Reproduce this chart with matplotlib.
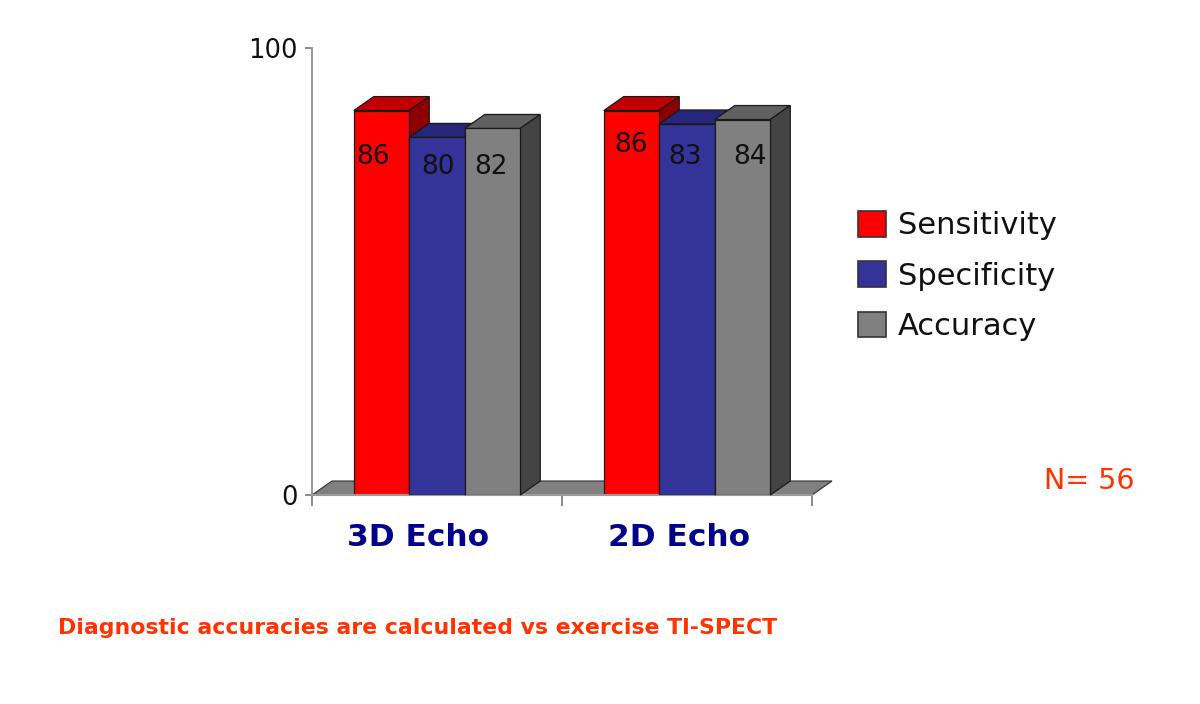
import matplotlib
matplotlib.use("Agg")
import matplotlib.pyplot as plt
from matplotlib.patches import Polygon, Patch

categories = ["3D Echo", "2D Echo"]
series_names = ["Sensitivity", "Specificity", "Accuracy"]
sensitivity = [86, 86]
specificity = [80, 83]
accuracy = [82, 84]
series_values = [sensitivity, specificity, accuracy]

W, H = 1200, 704
front = ["#FF0000", "#333399", "#808080"]
top = ["#C00000", "#26267A", "#606060"]
side = ["#8E0000", "#1C1C5C", "#444444"]

fig = plt.figure(figsize=(W / 100, H / 100), dpi=100, facecolor="white")
x0, x1, y0, y1 = 312, 812, 495, 48
ax = fig.add_axes([x0 / W, 1 - y0 / H, (x1 - x0) / W, (y0 - y1) / H])
ax.set_xlim(0, 2)
ax.set_ylim(0, 100)
ax.patch.set_visible(False)
for s in ("top", "right"):
    ax.spines[s].set_visible(False)
for s in ("left", "bottom"):
    ax.spines[s].set_color("#9A9A9A")
    ax.spines[s].set_linewidth(1.5)

# 3-D depth expressed in data units
dx = 20 / 250
dy = 14 / 4.47
bw = 55.5 / 250

# floor
floor = [(0, 0), (dx, dy), (2 + dx, dy), (2, 0)]
ax.add_patch(Polygon(floor, closed=True, fc="#808080", ec="#303030", lw=0.8, zorder=1, clip_on=False))

centers = [0.5 + i for i in range(len(categories))]
for i, c in enumerate(centers):
    for j, vals in enumerate(series_values):
        v = vals[i]
        left = c + (j - 1.5) * bw
        ax.add_patch(Polygon([(left, v), (left + dx, v + dy), (left + bw + dx, v + dy), (left + bw, v)],
                             closed=True, fc=top[j], ec="#1a1a1a", lw=0.9, zorder=2 + j, clip_on=False))
        ax.add_patch(Polygon([(left + bw, 0), (left + bw + dx, dy), (left + bw + dx, v + dy), (left + bw, v)],
                             closed=True, fc=side[j], ec="#1a1a1a", lw=0.9, zorder=2 + j, clip_on=False))
        ax.bar(left, v, width=bw, align="edge", color=front[j], edgecolor="#1a1a1a", linewidth=0.9,
               zorder=2.5 + j)

# value labels (offsets in pixels from the bar's centre / top, as placed in the original)
label_dx = [[-8, 1, -2], [0, -2, 7]]
label_dy = [[46, 30, 39], [34, 33, 37]]
for i, c in enumerate(centers):
    for j, vals in enumerate(series_values):
        left = c + (j - 1.5) * bw
        ax.annotate(str(vals[i]), (left + bw / 2, vals[i]),
                    xytext=(label_dx[i][j] * 0.72, -label_dy[i][j] * 0.72), textcoords="offset points",
                    ha="center", va="center", fontsize=19, color="#111111", zorder=10)

ax.set_yticks([0, 100])
ax.set_yticklabels(["0", "100"], fontsize=18.5, color="#111111", fontweight="medium")
ax.set_xticks([0, 1, 2])
ax.set_xticklabels([])
ax.tick_params(axis="y", length=5, width=1.2, color="#777777", pad=5)
ax.tick_params(axis="x", length=8, width=1.2, color="#777777")

for name, px in zip(categories, (418, 679)):
    fig.text(px / W, 1 - 537 / H, name, ha="center", va="center",
             fontsize=22.5, fontweight="bold", color="#00008B")

handles = [Patch(facecolor=f, edgecolor="#333333", linewidth=1.2) for f in front]
fs = 22
fpx = fs * 100 / 72
leg = fig.legend(handles, series_names, loc="upper left", bbox_to_anchor=(858 / W, 1 - 211 / H),
                 frameon=False, fontsize=fs, borderpad=0, borderaxespad=0,
                 handlelength=28 / fpx, handleheight=28 / fpx,
                 handletextpad=12 / fpx, labelspacing=21 / fpx, labelcolor="#111111")

fig.text(1089 / W, 1 - 481 / H, "N= 56", ha="center", va="center", fontsize=20.5, color="#FF3300")
fig.text(58 / W, 1 - 628 / H, "Diagnostic accuracies are calculated vs exercise Tl-SPECT",
         ha="left", va="center", fontsize=15.8, fontweight="bold", color="#FF3300")

fig.savefig("out.png", dpi=100, facecolor="white")
